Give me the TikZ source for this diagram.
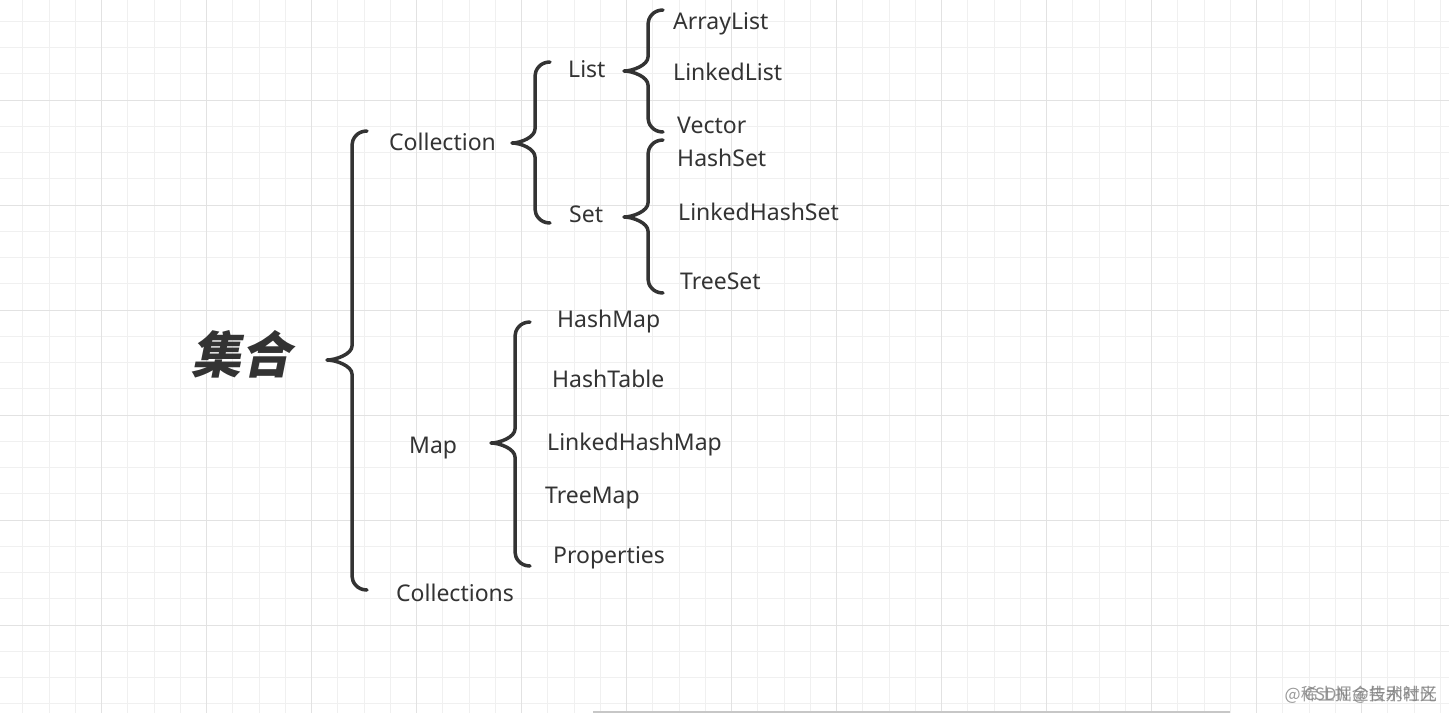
\documentclass[tikz,border=0pt]{standalone}
\usepackage{fontspec}
\setmainfont{Noto Sans}
\newfontfamily\cjk{Noto Sans CJK SC}
\newfontfamily\cjkslant[FakeSlant=0.2]{Noto Sans CJK SC}
\usetikzlibrary{calc}
\definecolor{ink}{HTML}{333333}
\definecolor{gridminor}{HTML}{F0F0F0}
\definecolor{gridmajor}{HTML}{E2E2E2}
\tikzset{bracestyle/.style={draw=ink,line width=3.5pt,line cap=round,line join=round}}
% #1 tip, #2 upper end, #3 lower end
\newcommand{\curly}[3]{%
  \draw[bracestyle] let \p1=(#1), \p2=(#2), \p3=(#3) in
    (\p2) .. controls +(-10pt,0pt) and +(0pt,6pt) .. (\x2-15pt,\y2-14pt)
    -- (\x2-15pt,\y1+14pt)
    .. controls +(0pt,-8pt) and +(9pt,0pt) .. (\p1)
    .. controls +(9pt,0pt) and +(0pt,8pt) .. (\x2-15pt,\y1-14pt)
    -- (\x2-15pt,\y3+14pt)
    .. controls +(0pt,-6pt) and +(-10pt,0pt) .. (\p3);}

\begin{document}
\begin{tikzpicture}[x=1pt,y=-1pt]
    \fill[white] (0,0) rectangle (1449,713);
    \useasboundingbox (0,0) rectangle (1449,713);
    % grid
    \foreach \i in {-3,...,51}
        \draw[gridminor,line width=1pt] ({101.7+26.25*\i},0) -- ({101.7+26.25*\i},713);
    \foreach \j in {-3,...,23}
        \draw[gridminor,line width=1pt] (0,{100+26.25*\j}) -- (1449,{100+26.25*\j});
    \foreach \i in {-1,...,12}
        \draw[gridmajor,line width=1pt] ({101.7+105*\i},0) -- ({101.7+105*\i},713);
    \foreach \j in {-1,...,6}
        \draw[gridmajor,line width=1pt] (0,{100+105*\j}) -- (1449,{100+105*\j});
    \fill[black!22] (593,710.5) rectangle (1230,713);

    \begin{scope}[every node/.style={anchor=base west,inner sep=0pt,text=ink,
                  font=\fontsize{23}{28}\selectfont}]
        \node[anchor=center,font=\cjkslant\bfseries\fontsize{50}{56}\selectfont] (Root) at (241,354) {集合};
        \node (Coll)  at (389,150) {Collection};
        \node (Map)   at (409,453) {Map};
        \node (Colls) at (396,601) {Collections};
        \node (List)  at (568,77)  {List};
        \node (Set)   at (569,222) {Set};
        \node (AL)    at (673,29)  {ArrayList};
        \node (LL)    at (673,80)  {LinkedList};
        \node (Vec)   at (677,133) {Vector};
        \node (HS)    at (677,166) {HashSet};
        \node (LHS)   at (678,220) {LinkedHashSet};
        \node (TS)    at (680,289) {TreeSet};
        \node (HM)    at (557,327) {HashMap};
        \node (HT)    at (552,387) {HashTable};
        \node (LHM)   at (547,450) {LinkedHashMap};
        \node (TM)    at (545,503) {TreeMap};
        \node (Prop)  at (553,563) {Properties};
    \end{scope}

    % brace tips and ends
    \coordinate (Root-tip) at (327,360);  \coordinate (Root-top) at (367,131);  \coordinate (Root-bot) at (367,590);
    \coordinate (Coll-tip) at (512,143);  \coordinate (Coll-top) at (550,62);   \coordinate (Coll-bot) at (550,223);
    \coordinate (List-tip) at (624,71);   \coordinate (List-top) at (663,10);   \coordinate (List-bot) at (663,132);
    \coordinate (Set-tip)  at (624,217);  \coordinate (Set-top)  at (663,140);  \coordinate (Set-bot)  at (663,293);
    \coordinate (Map-tip)  at (491,443);  \coordinate (Map-top)  at (530,322);  \coordinate (Map-bot)  at (530,566);

    \curly{Root-tip}{Root-top}{Root-bot}
    \curly{Coll-tip}{Coll-top}{Coll-bot}
    \curly{List-tip}{List-top}{List-bot}
    \curly{Set-tip}{Set-top}{Set-bot}
    \curly{Map-tip}{Map-top}{Map-bot}

    \begin{scope}[every node/.style={anchor=base east,inner sep=0pt,text=black!50,opacity=0.8,
                  font=\cjk\fontsize{17}{20}\selectfont}]
        \node (WmA) at (1437,700) {@稀土掘金技术社区};
        \node (WmB) at (1437,700) {CSDN @告别时光};
    \end{scope}
\end{tikzpicture}
\end{document}
